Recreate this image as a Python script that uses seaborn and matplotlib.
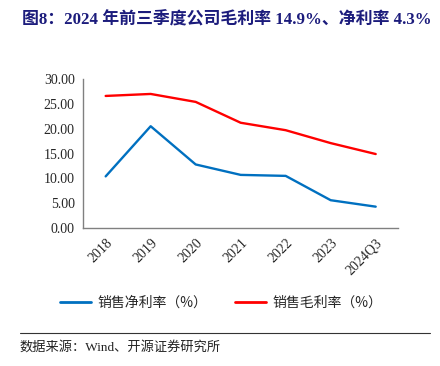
import matplotlib
matplotlib.use("Agg")
import matplotlib.pyplot as plt
import seaborn as sns
import pandas as pd
from matplotlib.lines import Line2D

categories = ["2018", "2019", "2020", "2021", "2022", "2023", "2024Q3"]
net_margin = [10.4, 20.5, 12.8, 10.7, 10.5, 5.6, 4.3]
gross_margin = [26.6, 27.0, 25.4, 21.2, 19.7, 17.1, 14.9]
series_names = ["销售净利率（%）", "销售毛利率（%）"]
yticks = [0, 5, 10, 15, 20, 25, 30]

sns.set_style("white")
plt.rcParams['font.family'] = ['Liberation Serif', 'Noto Sans CJK SC', 'DejaVu Sans']

df = pd.DataFrame({
    "x": list(range(len(categories))) * 2,
    "value": net_margin + gross_margin,
    "series": [series_names[0]] * len(categories) + [series_names[1]] * len(categories),
})

fig = plt.figure(figsize=(4.4, 3.66), dpi=100)
ax = fig.add_axes([0.189, 0.377, 0.716, 0.407])
palette = {series_names[0]: "#0070C0", series_names[1]: "#FF0000"}
sns.lineplot(data=df, x="x", y="value", hue="series", palette=palette, ax=ax,
             linewidth=1.7, legend=False)

ax.set_xlim(-0.5, len(categories) - 0.5)
ax.set_ylim(0, 30)
ax.set_yticks(yticks)
ax.set_yticklabels([f"{v:.2f}" for v in yticks], fontsize=10)
ax.set_xticks(range(len(categories)))
ax.set_xticklabels(categories, rotation=45, ha="right", rotation_mode="anchor", fontsize=10)
ax.tick_params(axis="x", which="major", length=0, pad=6)
ax.set_xticks([i + 0.5 for i in range(len(categories))], minor=True)
ax.tick_params(axis="x", which="minor", length=4, direction="in", color="#808080")
ax.tick_params(axis="y", which="major", length=4, direction="in", color="#808080", pad=6)
ax.set_xlabel("")
ax.set_ylabel("")
for s in ["top", "right"]:
    ax.spines[s].set_visible(False)
for s in ["left", "bottom"]:
    ax.spines[s].set_color("#808080")
    ax.spines[s].set_linewidth(1.0)

handles = [Line2D([0], [0], color="#0070C0", lw=2), Line2D([0], [0], color="#FF0000", lw=2)]
fig.legend(handles, series_names, loc="center", bbox_to_anchor=(0.503, 0.172), ncol=2,
           frameon=False, handlelength=2.2, columnspacing=2.0, handletextpad=0.5,
           prop={"family": ["Noto Sans CJK SC"], "size": 10})

fig.text(0.05, 0.945, "图8：2024 年前三季度公司毛利率 14.9%、净利率 4.3%",
         fontsize=12.2, fontweight="bold", color="#1C1C7C",
         family=["Liberation Serif", "Noto Sans CJK SC"], va="center")

fig.add_artist(Line2D([0.045, 0.977], [0.09, 0.09], color="#333333", lw=0.8))
fig.text(0.045, 0.052, "数据来源：Wind、开源证券研究所", fontsize=9.5, color="#222222",
         family=["Liberation Serif", "Noto Sans CJK SC"], va="center")

fig.savefig("out.png", dpi=100)
